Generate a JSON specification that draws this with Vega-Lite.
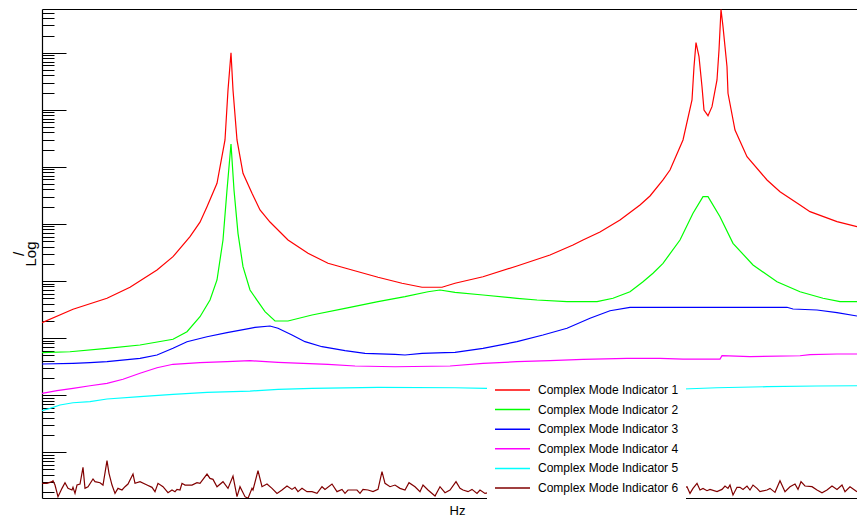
{
  "$schema": "https://vega.github.io/schema/vega-lite/v6.json",
  "width": 815,
  "height": 489,
  "autosize": {"type": "none"},
  "padding": {"left": 42, "top": 9, "right": 0, "bottom": 21},
  "background": "white",
  "config": {"view": {"stroke": null}},
  "datasets": {
    "cmi": [
      {"indicator":1,"hz":0,"log_mag":2.267},{"indicator":1,"hz":31,"log_mag":2.502},{"indicator":1,"hz":65,"log_mag":2.695},{"indicator":1,"hz":88,"log_mag":2.888},{"indicator":1,"hz":115,"log_mag":3.191},{"indicator":1,"hz":131,"log_mag":3.424},{"indicator":1,"hz":148,"log_mag":3.775},{"indicator":1,"hz":158,"log_mag":4.030},{"indicator":1,"hz":165,"log_mag":4.301},{"indicator":1,"hz":175,"log_mag":4.711},{"indicator":1,"hz":183,"log_mag":5.470},{"indicator":1,"hz":186,"log_mag":6.347},{"indicator":1,"hz":189,"log_mag":7.000},{"indicator":1,"hz":191,"log_mag":6.347},{"indicator":1,"hz":195,"log_mag":5.470},{"indicator":1,"hz":201,"log_mag":4.886},{"indicator":1,"hz":210,"log_mag":4.535},{"indicator":1,"hz":218,"log_mag":4.243},{"indicator":1,"hz":228,"log_mag":4.032},{"indicator":1,"hz":238,"log_mag":3.857},{"indicator":1,"hz":246,"log_mag":3.717},{"indicator":1,"hz":266,"log_mag":3.484},{"indicator":1,"hz":286,"log_mag":3.308},{"indicator":1,"hz":310,"log_mag":3.191},{"indicator":1,"hz":336,"log_mag":3.063},{"indicator":1,"hz":360,"log_mag":2.958},{"indicator":1,"hz":380,"log_mag":2.888},{"indicator":1,"hz":400,"log_mag":2.888},{"indicator":1,"hz":413,"log_mag":2.958},{"indicator":1,"hz":441,"log_mag":3.073},{"indicator":1,"hz":475,"log_mag":3.261},{"indicator":1,"hz":508,"log_mag":3.454},{"indicator":1,"hz":531,"log_mag":3.629},{"indicator":1,"hz":541,"log_mag":3.717},{"indicator":1,"hz":558,"log_mag":3.857},{"indicator":1,"hz":578,"log_mag":4.067},{"indicator":1,"hz":598,"log_mag":4.330},{"indicator":1,"hz":608,"log_mag":4.488},{"indicator":1,"hz":621,"log_mag":4.769},{"indicator":1,"hz":628,"log_mag":4.944},{"indicator":1,"hz":641,"log_mag":5.470},{"indicator":1,"hz":650,"log_mag":6.171},{"indicator":1,"hz":652,"log_mag":6.755},{"indicator":1,"hz":654,"log_mag":7.176},{"indicator":1,"hz":657,"log_mag":6.930},{"indicator":1,"hz":660,"log_mag":6.404},{"indicator":1,"hz":662,"log_mag":5.996},{"indicator":1,"hz":666,"log_mag":5.896},{"indicator":1,"hz":670,"log_mag":6.054},{"indicator":1,"hz":675,"log_mag":6.522},{"indicator":1,"hz":677,"log_mag":7.048},{"indicator":1,"hz":679,"log_mag":7.758},{"indicator":1,"hz":681,"log_mag":7.456},{"indicator":1,"hz":685,"log_mag":6.755},{"indicator":1,"hz":686,"log_mag":6.289},{"indicator":1,"hz":693,"log_mag":5.645},{"indicator":1,"hz":705,"log_mag":5.177},{"indicator":1,"hz":725,"log_mag":4.769},{"indicator":1,"hz":738,"log_mag":4.564},{"indicator":1,"hz":758,"log_mag":4.330},{"indicator":1,"hz":768,"log_mag":4.213},{"indicator":1,"hz":795,"log_mag":4.038},{"indicator":1,"hz":815,"log_mag":3.950},

      {"indicator":2,"hz":0,"log_mag":1.741},{"indicator":2,"hz":28,"log_mag":1.758},{"indicator":2,"hz":65,"log_mag":1.818},{"indicator":2,"hz":98,"log_mag":1.876},{"indicator":2,"hz":131,"log_mag":1.976},{"indicator":2,"hz":145,"log_mag":2.109},{"indicator":2,"hz":158,"log_mag":2.372},{"indicator":2,"hz":168,"log_mag":2.665},{"indicator":2,"hz":175,"log_mag":3.016},{"indicator":2,"hz":181,"log_mag":3.717},{"indicator":2,"hz":185,"log_mag":4.593},{"indicator":2,"hz":189,"log_mag":5.400},{"indicator":2,"hz":192,"log_mag":4.593},{"indicator":2,"hz":196,"log_mag":3.834},{"indicator":2,"hz":201,"log_mag":3.249},{"indicator":2,"hz":208,"log_mag":2.840},{"indicator":2,"hz":216,"log_mag":2.635},{"indicator":2,"hz":223,"log_mag":2.460},{"indicator":2,"hz":233,"log_mag":2.297},{"indicator":2,"hz":246,"log_mag":2.297},{"indicator":2,"hz":270,"log_mag":2.402},{"indicator":2,"hz":303,"log_mag":2.519},{"indicator":2,"hz":336,"log_mag":2.635},{"indicator":2,"hz":363,"log_mag":2.723},{"indicator":2,"hz":386,"log_mag":2.810},{"indicator":2,"hz":398,"log_mag":2.840},{"indicator":2,"hz":413,"log_mag":2.800},{"indicator":2,"hz":441,"log_mag":2.753},{"indicator":2,"hz":475,"log_mag":2.695},{"indicator":2,"hz":495,"log_mag":2.665},{"indicator":2,"hz":525,"log_mag":2.635},{"indicator":2,"hz":555,"log_mag":2.635},{"indicator":2,"hz":571,"log_mag":2.695},{"indicator":2,"hz":588,"log_mag":2.810},{"indicator":2,"hz":601,"log_mag":2.986},{"indicator":2,"hz":611,"log_mag":3.133},{"indicator":2,"hz":621,"log_mag":3.308},{"indicator":2,"hz":638,"log_mag":3.717},{"indicator":2,"hz":651,"log_mag":4.185},{"indicator":2,"hz":661,"log_mag":4.476},{"indicator":2,"hz":666,"log_mag":4.476},{"indicator":2,"hz":678,"log_mag":4.125},{"indicator":2,"hz":691,"log_mag":3.659},{"indicator":2,"hz":711,"log_mag":3.278},{"indicator":2,"hz":735,"log_mag":2.986},{"indicator":2,"hz":758,"log_mag":2.810},{"indicator":2,"hz":781,"log_mag":2.695},{"indicator":2,"hz":798,"log_mag":2.635},{"indicator":2,"hz":815,"log_mag":2.635},

      {"indicator":3,"hz":0,"log_mag":1.543},{"indicator":3,"hz":31,"log_mag":1.555},{"indicator":3,"hz":48,"log_mag":1.566},{"indicator":3,"hz":65,"log_mag":1.583},{"indicator":3,"hz":98,"log_mag":1.643},{"indicator":3,"hz":115,"log_mag":1.701},{"indicator":3,"hz":131,"log_mag":1.818},{"indicator":3,"hz":145,"log_mag":1.934},{"indicator":3,"hz":165,"log_mag":2.021},{"indicator":3,"hz":185,"log_mag":2.092},{"indicator":3,"hz":208,"log_mag":2.169},{"indicator":3,"hz":213,"log_mag":2.186},{"indicator":3,"hz":228,"log_mag":2.209},{"indicator":3,"hz":236,"log_mag":2.169},{"indicator":3,"hz":250,"log_mag":2.051},{"indicator":3,"hz":263,"log_mag":1.934},{"indicator":3,"hz":280,"log_mag":1.846},{"indicator":3,"hz":303,"log_mag":1.776},{"indicator":3,"hz":323,"log_mag":1.730},{"indicator":3,"hz":353,"log_mag":1.713},{"indicator":3,"hz":363,"log_mag":1.701},{"indicator":3,"hz":380,"log_mag":1.730},{"indicator":3,"hz":403,"log_mag":1.741},{"indicator":3,"hz":413,"log_mag":1.748},{"indicator":3,"hz":441,"log_mag":1.818},{"indicator":3,"hz":475,"log_mag":1.934},{"indicator":3,"hz":501,"log_mag":2.051},{"indicator":3,"hz":525,"log_mag":2.169},{"indicator":3,"hz":548,"log_mag":2.344},{"indicator":3,"hz":568,"log_mag":2.477},{"indicator":3,"hz":588,"log_mag":2.537},{"indicator":3,"hz":745,"log_mag":2.537},{"indicator":3,"hz":751,"log_mag":2.507},{"indicator":3,"hz":775,"log_mag":2.490},{"indicator":3,"hz":795,"log_mag":2.442},{"indicator":3,"hz":815,"log_mag":2.384},

      {"indicator":4,"hz":0,"log_mag":1.029},{"indicator":4,"hz":15,"log_mag":1.075},{"indicator":4,"hz":31,"log_mag":1.117},{"indicator":4,"hz":48,"log_mag":1.162},{"indicator":4,"hz":65,"log_mag":1.204},{"indicator":4,"hz":81,"log_mag":1.275},{"indicator":4,"hz":98,"log_mag":1.380},{"indicator":4,"hz":115,"log_mag":1.478},{"indicator":4,"hz":131,"log_mag":1.538},{"indicator":4,"hz":158,"log_mag":1.566},{"indicator":4,"hz":185,"log_mag":1.583},{"indicator":4,"hz":208,"log_mag":1.601},{"indicator":4,"hz":236,"log_mag":1.573},{"indicator":4,"hz":286,"log_mag":1.538},{"indicator":4,"hz":313,"log_mag":1.508},{"indicator":4,"hz":353,"log_mag":1.495},{"indicator":4,"hz":408,"log_mag":1.508},{"indicator":4,"hz":441,"log_mag":1.555},{"indicator":4,"hz":475,"log_mag":1.583},{"indicator":4,"hz":508,"log_mag":1.601},{"indicator":4,"hz":541,"log_mag":1.625},{"indicator":4,"hz":585,"log_mag":1.643},{"indicator":4,"hz":618,"log_mag":1.643},{"indicator":4,"hz":641,"log_mag":1.630},{"indicator":4,"hz":678,"log_mag":1.630},{"indicator":4,"hz":680,"log_mag":1.688},{"indicator":4,"hz":708,"log_mag":1.671},{"indicator":4,"hz":758,"log_mag":1.688},{"indicator":4,"hz":768,"log_mag":1.706},{"indicator":4,"hz":795,"log_mag":1.718},{"indicator":4,"hz":815,"log_mag":1.718},

      {"indicator":5,"hz":0,"log_mag":0.724},{"indicator":5,"hz":8,"log_mag":0.766},{"indicator":5,"hz":18,"log_mag":0.824},{"indicator":5,"hz":31,"log_mag":0.864},{"indicator":5,"hz":48,"log_mag":0.882},{"indicator":5,"hz":65,"log_mag":0.929},{"indicator":5,"hz":98,"log_mag":0.970},{"indicator":5,"hz":131,"log_mag":1.012},{"indicator":5,"hz":165,"log_mag":1.047},{"indicator":5,"hz":208,"log_mag":1.069},{"indicator":5,"hz":236,"log_mag":1.099},{"indicator":5,"hz":270,"log_mag":1.117},{"indicator":5,"hz":336,"log_mag":1.134},{"indicator":5,"hz":413,"log_mag":1.127},{"indicator":5,"hz":444,"log_mag":1.117},{"indicator":5,"hz":508,"log_mag":1.122},{"indicator":5,"hz":578,"log_mag":1.122},{"indicator":5,"hz":641,"log_mag":1.105},{"indicator":5,"hz":675,"log_mag":1.127},{"indicator":5,"hz":725,"log_mag":1.145},{"indicator":5,"hz":775,"log_mag":1.157},{"indicator":5,"hz":815,"log_mag":1.162},

      {"indicator":6,"hz":0,"log_mag":-0.549},{"indicator":6,"hz":5,"log_mag":-0.549},{"indicator":6,"hz":10,"log_mag":-0.520},{"indicator":6,"hz":11,"log_mag":-0.503},{"indicator":6,"hz":13,"log_mag":-0.579},{"indicator":6,"hz":16,"log_mag":-0.783},{"indicator":6,"hz":20,"log_mag":-0.637},{"indicator":6,"hz":23,"log_mag":-0.538},{"indicator":6,"hz":26,"log_mag":-0.637},{"indicator":6,"hz":30,"log_mag":-0.666},{"indicator":6,"hz":31,"log_mag":-0.619},{"indicator":6,"hz":33,"log_mag":-0.725},{"indicator":6,"hz":35,"log_mag":-0.579},{"indicator":6,"hz":38,"log_mag":-0.561},{"indicator":6,"hz":41,"log_mag":-0.269},{"indicator":6,"hz":43,"log_mag":-0.637},{"indicator":6,"hz":46,"log_mag":-0.608},{"indicator":6,"hz":51,"log_mag":-0.473},{"indicator":6,"hz":53,"log_mag":-0.520},{"indicator":6,"hz":58,"log_mag":-0.538},{"indicator":6,"hz":61,"log_mag":-0.579},{"indicator":6,"hz":65,"log_mag":-0.152},{"indicator":6,"hz":67,"log_mag":-0.374},{"indicator":6,"hz":70,"log_mag":-0.579},{"indicator":6,"hz":73,"log_mag":-0.725},{"indicator":6,"hz":76,"log_mag":-0.637},{"indicator":6,"hz":80,"log_mag":-0.666},{"indicator":6,"hz":83,"log_mag":-0.608},{"indicator":6,"hz":86,"log_mag":-0.561},{"indicator":6,"hz":91,"log_mag":-0.386},{"indicator":6,"hz":93,"log_mag":-0.549},{"indicator":6,"hz":98,"log_mag":-0.520},{"indicator":6,"hz":105,"log_mag":-0.579},{"indicator":6,"hz":110,"log_mag":-0.619},{"indicator":6,"hz":113,"log_mag":-0.695},{"indicator":6,"hz":116,"log_mag":-0.549},{"indicator":6,"hz":121,"log_mag":-0.608},{"indicator":6,"hz":126,"log_mag":-0.713},{"indicator":6,"hz":130,"log_mag":-0.666},{"indicator":6,"hz":133,"log_mag":-0.695},{"indicator":6,"hz":135,"log_mag":-0.655},{"indicator":6,"hz":138,"log_mag":-0.666},{"indicator":6,"hz":140,"log_mag":-0.549},{"indicator":6,"hz":143,"log_mag":-0.579},{"indicator":6,"hz":150,"log_mag":-0.579},{"indicator":6,"hz":155,"log_mag":-0.538},{"indicator":6,"hz":158,"log_mag":-0.549},{"indicator":6,"hz":165,"log_mag":-0.386},{"indicator":6,"hz":168,"log_mag":-0.462},{"indicator":6,"hz":171,"log_mag":-0.479},{"indicator":6,"hz":175,"log_mag":-0.608},{"indicator":6,"hz":181,"log_mag":-0.520},{"indicator":6,"hz":186,"log_mag":-0.637},{"indicator":6,"hz":191,"log_mag":-0.421},{"indicator":6,"hz":195,"log_mag":-0.783},{"indicator":6,"hz":198,"log_mag":-0.608},{"indicator":6,"hz":203,"log_mag":-0.783},{"indicator":6,"hz":206,"log_mag":-0.812},{"indicator":6,"hz":210,"log_mag":-0.637},{"indicator":6,"hz":211,"log_mag":-0.666},{"indicator":6,"hz":216,"log_mag":-0.327},{"indicator":6,"hz":220,"log_mag":-0.608},{"indicator":6,"hz":225,"log_mag":-0.561},{"indicator":6,"hz":230,"log_mag":-0.637},{"indicator":6,"hz":235,"log_mag":-0.725},{"indicator":6,"hz":240,"log_mag":-0.666},{"indicator":6,"hz":245,"log_mag":-0.596},{"indicator":6,"hz":250,"log_mag":-0.655},{"indicator":6,"hz":253,"log_mag":-0.619},{"indicator":6,"hz":256,"log_mag":-0.695},{"indicator":6,"hz":260,"log_mag":-0.637},{"indicator":6,"hz":265,"log_mag":-0.695},{"indicator":6,"hz":270,"log_mag":-0.695},{"indicator":6,"hz":275,"log_mag":-0.725},{"indicator":6,"hz":280,"log_mag":-0.608},{"indicator":6,"hz":283,"log_mag":-0.655},{"indicator":6,"hz":290,"log_mag":-0.561},{"indicator":6,"hz":295,"log_mag":-0.695},{"indicator":6,"hz":300,"log_mag":-0.655},{"indicator":6,"hz":303,"log_mag":-0.725},{"indicator":6,"hz":306,"log_mag":-0.666},{"indicator":6,"hz":310,"log_mag":-0.666},{"indicator":6,"hz":315,"log_mag":-0.666},{"indicator":6,"hz":318,"log_mag":-0.725},{"indicator":6,"hz":321,"log_mag":-0.655},{"indicator":6,"hz":326,"log_mag":-0.666},{"indicator":6,"hz":331,"log_mag":-0.695},{"indicator":6,"hz":336,"log_mag":-0.655},{"indicator":6,"hz":340,"log_mag":-0.345},{"indicator":6,"hz":343,"log_mag":-0.549},{"indicator":6,"hz":348,"log_mag":-0.608},{"indicator":6,"hz":353,"log_mag":-0.579},{"indicator":6,"hz":358,"log_mag":-0.637},{"indicator":6,"hz":363,"log_mag":-0.666},{"indicator":6,"hz":367,"log_mag":-0.538},{"indicator":6,"hz":373,"log_mag":-0.608},{"indicator":6,"hz":378,"log_mag":-0.695},{"indicator":6,"hz":381,"log_mag":-0.579},{"indicator":6,"hz":386,"log_mag":-0.666},{"indicator":6,"hz":393,"log_mag":-0.771},{"indicator":6,"hz":398,"log_mag":-0.608},{"indicator":6,"hz":403,"log_mag":-0.713},{"indicator":6,"hz":408,"log_mag":-0.666},{"indicator":6,"hz":414,"log_mag":-0.520},{"indicator":6,"hz":418,"log_mag":-0.637},{"indicator":6,"hz":421,"log_mag":-0.666},{"indicator":6,"hz":426,"log_mag":-0.695},{"indicator":6,"hz":430,"log_mag":-0.655},{"indicator":6,"hz":435,"log_mag":-0.725},{"indicator":6,"hz":438,"log_mag":-0.666},{"indicator":6,"hz":443,"log_mag":-0.725},{"indicator":6,"hz":448,"log_mag":-0.707},{"indicator":6,"hz":455,"log_mag":-0.620},{"indicator":6,"hz":470,"log_mag":-0.660},{"indicator":6,"hz":485,"log_mag":-0.600},{"indicator":6,"hz":500,"log_mag":-0.680},{"indicator":6,"hz":515,"log_mag":-0.640},{"indicator":6,"hz":530,"log_mag":-0.580},{"indicator":6,"hz":545,"log_mag":-0.660},{"indicator":6,"hz":560,"log_mag":-0.620},{"indicator":6,"hz":575,"log_mag":-0.690},{"indicator":6,"hz":590,"log_mag":-0.600},{"indicator":6,"hz":605,"log_mag":-0.650},{"indicator":6,"hz":620,"log_mag":-0.630},{"indicator":6,"hz":638,"log_mag":-0.637},{"indicator":6,"hz":641,"log_mag":-0.637},{"indicator":6,"hz":645,"log_mag":-0.608},{"indicator":6,"hz":648,"log_mag":-0.725},{"indicator":6,"hz":651,"log_mag":-0.637},{"indicator":6,"hz":655,"log_mag":-0.549},{"indicator":6,"hz":658,"log_mag":-0.666},{"indicator":6,"hz":661,"log_mag":-0.637},{"indicator":6,"hz":665,"log_mag":-0.678},{"indicator":6,"hz":668,"log_mag":-0.655},{"indicator":6,"hz":675,"log_mag":-0.695},{"indicator":6,"hz":680,"log_mag":-0.655},{"indicator":6,"hz":683,"log_mag":-0.596},{"indicator":6,"hz":686,"log_mag":-0.637},{"indicator":6,"hz":688,"log_mag":-0.579},{"indicator":6,"hz":691,"log_mag":-0.754},{"indicator":6,"hz":695,"log_mag":-0.619},{"indicator":6,"hz":698,"log_mag":-0.619},{"indicator":6,"hz":701,"log_mag":-0.655},{"indicator":6,"hz":705,"log_mag":-0.596},{"indicator":6,"hz":708,"log_mag":-0.666},{"indicator":6,"hz":711,"log_mag":-0.579},{"indicator":6,"hz":715,"log_mag":-0.637},{"indicator":6,"hz":718,"log_mag":-0.695},{"indicator":6,"hz":725,"log_mag":-0.666},{"indicator":6,"hz":728,"log_mag":-0.637},{"indicator":6,"hz":733,"log_mag":-0.707},{"indicator":6,"hz":738,"log_mag":-0.503},{"indicator":6,"hz":743,"log_mag":-0.695},{"indicator":6,"hz":748,"log_mag":-0.608},{"indicator":6,"hz":753,"log_mag":-0.561},{"indicator":6,"hz":756,"log_mag":-0.655},{"indicator":6,"hz":759,"log_mag":-0.520},{"indicator":6,"hz":763,"log_mag":-0.596},{"indicator":6,"hz":770,"log_mag":-0.608},{"indicator":6,"hz":775,"log_mag":-0.666},{"indicator":6,"hz":780,"log_mag":-0.713},{"indicator":6,"hz":785,"log_mag":-0.666},{"indicator":6,"hz":790,"log_mag":-0.596},{"indicator":6,"hz":795,"log_mag":-0.655},{"indicator":6,"hz":800,"log_mag":-0.579},{"indicator":6,"hz":803,"log_mag":-0.695},{"indicator":6,"hz":808,"log_mag":-0.608},{"indicator":6,"hz":815,"log_mag":-0.695}
    ]
  },
  "data": {"name": "cmi"},
  "mark": {"type": "line", "strokeWidth": 1.2, "clip": true},
  "encoding": {
    "x": {
      "field": "hz", "type": "quantitative",
      "scale": {"domain": [0, 815], "nice": false, "zero": false},
      "axis": {
        "orient": "bottom", "domain": true, "domainColor": "black", "domainWidth": 1.2,
        "ticks": false, "labels": false, "grid": false,
        "title": "Hz", "titleFont": "Liberation Sans", "titleFontSize": 13, "titleFontWeight": "normal",
        "titleColor": "black", "titlePadding": 6, "titleX": 415
      }
    },
    "y": {
      "field": "log_mag", "type": "quantitative",
      "scale": {"domain": [-0.806, 7.766], "nice": false, "zero": false},
      "axis": {
        "orient": "left",
        "values": [-0.699,-0.523,-0.398,-0.301,-0.222,-0.155,-0.097,-0.046,
          0,0.301,0.477,0.602,0.699,0.778,0.845,0.903,0.954,
          1,1.301,1.477,1.602,1.699,1.778,1.845,1.903,1.954,
          2,2.301,2.477,2.602,2.699,2.778,2.845,2.903,2.954,
          3,3.301,3.477,3.602,3.699,3.778,3.845,3.903,3.954,
          4,4.301,4.477,4.602,4.699,4.778,4.845,4.903,4.954,
          5,5.301,5.477,5.602,5.699,5.778,5.845,5.903,5.954,
          6,6.301,6.477,6.602,6.699,6.778,6.845,6.903,6.954,
          7,7.301,7.477,7.602,7.699,7.766],
        "labels": false,
        "domain": true, "domainColor": "black", "domainWidth": 1.2,
        "ticks": true, "tickColor": "black", "tickWidth": 1,
        "tickSize": {"condition": {"test": "abs(datum.value - round(datum.value)) < 0.001", "value": -24}, "value": -12},
        "tickOpacity": {"condition": {"test": "datum.value > 7.76", "value": 0}, "value": 1},
        "grid": true, "gridColor": "black", "gridWidth": 1.2,
        "gridOpacity": {"condition": {"test": "datum.value > 7.76", "value": 1}, "value": 0},
        "title": ["/", "Log"], "titleFont": "Liberation Sans", "titleFontSize": 15, "titleFontWeight": "normal",
        "titleColor": "black", "titlePadding": 3, "titleLineHeight": 12
      }
    },
    "color": {
      "field": "indicator", "type": "nominal",
      "scale": {"domain": [1, 2, 3, 4, 5, 6], "range": ["#ff0000", "#00ff00", "#0000ff", "#ff00ff", "#00ffff", "#800000"]},
      "legend": {
        "orient": "none", "legendX": 445, "legendY": 367,
        "title": null, "fillColor": "white", "strokeColor": null, "padding": 7,
        "symbolType": "stroke", "symbolSize": 1225, "symbolStrokeWidth": 1.5,
        "clipHeight": 14, "rowPadding": 5.6, "labelOffset": 7,
        "labelExpr": "'Complex Mode Indicator ' + datum.label",
        "labelFont": "Liberation Sans", "labelFontSize": 12, "labelColor": "black",
        "labelLimit": 250
      }
    }
  }
}
